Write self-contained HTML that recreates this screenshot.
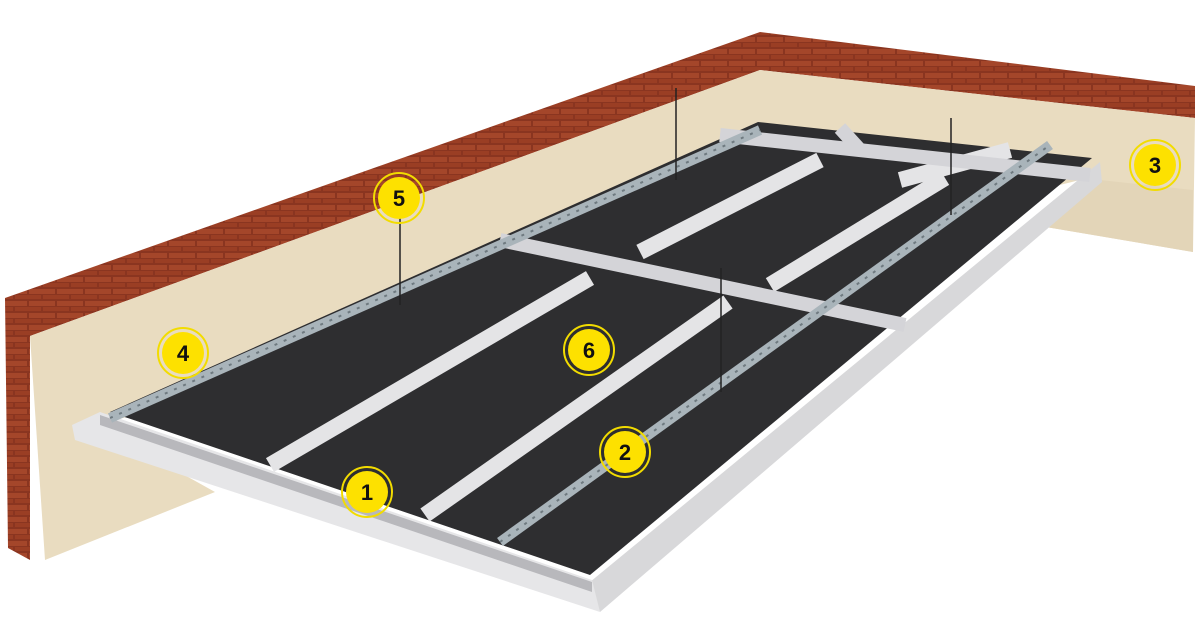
<!DOCTYPE html>
<html><head><style>html,body{margin:0;padding:0;background:#fff}svg{display:block}</style></head>
<body>
<svg width="1200" height="639" viewBox="0 0 1200 639" xmlns="http://www.w3.org/2000/svg">
<defs>
<pattern id="brick" width="28" height="12" patternUnits="userSpaceOnUse">
<rect width="28" height="12" fill="#8a3520"/>
<rect x="1" y="1" width="26" height="5" fill="#a4462a"/>
<rect x="-13" y="7" width="26" height="4" fill="#9a3e24"/>
<rect x="15" y="7" width="26" height="4" fill="#9a3e24"/>
</pattern>
</defs>
<!-- brick top and left side -->
<polygon points="5,298 760,32 1195,86 1195,118 760,70 30,336 30,560 8,548" fill="url(#brick)"/>
<!-- beige wall -->
<polygon points="30,336 760,70 1195,118 1193,252 1040,226 1100,175 95,425 215,492 45,560" fill="#e9dcc0"/>
<polygon points="1040,226 1100,180 1193,190 1193,252" fill="#e3d5b8"/>
<!-- board underside/right face -->
<polygon points="590,582 1100,162 1102,182 600,612" fill="#d8d8da"/>
<!-- front trim -->
<polygon points="72,425 100,412 592,580 600,612 75,440" fill="#e6e6e8"/>
<polygon points="100,415 592,582 592,592 100,425" fill="#b8b8bc"/>
<!-- dark board -->
<polygon points="110,412 758,122 1092,158 590,575" fill="#2e2e30"/>
<!-- furring channels (white) -->
<g stroke="#e4e4e6" stroke-width="16" stroke-linecap="butt">
<line x1="270" y1="465" x2="590" y2="278"/>
<line x1="425" y1="515" x2="728" y2="302"/>
<line x1="640" y1="252" x2="820" y2="160"/>
<line x1="770" y1="285" x2="945" y2="178"/>
<line x1="900" y1="180" x2="1010" y2="150"/>
</g>
<g stroke="#d4d4d8" stroke-width="14">
<line x1="500" y1="240" x2="905" y2="325"/>
<line x1="720" y1="135" x2="1090" y2="175"/>
<line x1="840" y1="128" x2="860" y2="150"/>
</g>
<!-- perforated galvanised strips -->
<g stroke="#a9b4ba" stroke-width="10">
<line x1="110" y1="418" x2="760" y2="130"/>
<line x1="500" y1="542" x2="1050" y2="145"/>
</g>
<g stroke="#6f7a80" stroke-width="2" stroke-dasharray="3,7">
<line x1="110" y1="418" x2="760" y2="130"/>
<line x1="500" y1="542" x2="1050" y2="145"/>
</g>
<!-- hanger wires -->
<g stroke="#222" stroke-width="1.5">
<line x1="400" y1="205" x2="400" y2="305"/>
<line x1="676" y1="88" x2="676" y2="180"/>
<line x1="721" y1="268" x2="721" y2="392"/>
<line x1="951" y1="118" x2="951" y2="215"/>
</g>
<!-- labels -->
<g font-family="Liberation Sans, sans-serif" font-weight="bold" font-size="22" text-anchor="middle" fill="#111">
<g><circle cx="367" cy="492" r="25" fill="none" stroke="#f2dc00" stroke-width="2"/><circle cx="367" cy="492" r="21" fill="#fde100"/><text x="367" y="500">1</text></g>
<g><circle cx="625" cy="452" r="25" fill="none" stroke="#f2dc00" stroke-width="2"/><circle cx="625" cy="452" r="21" fill="#fde100"/><text x="625" y="460">2</text></g>
<g><circle cx="1155" cy="165" r="25" fill="none" stroke="#f2dc00" stroke-width="2"/><circle cx="1155" cy="165" r="21" fill="#fde100"/><text x="1155" y="173">3</text></g>
<g><circle cx="183" cy="353" r="25" fill="none" stroke="#f2dc00" stroke-width="2"/><circle cx="183" cy="353" r="21" fill="#fde100"/><text x="183" y="361">4</text></g>
<g><circle cx="399" cy="198" r="25" fill="none" stroke="#f2dc00" stroke-width="2"/><circle cx="399" cy="198" r="21" fill="#fde100"/><text x="399" y="206">5</text></g>
<g><circle cx="589" cy="350" r="25" fill="none" stroke="#f2dc00" stroke-width="2"/><circle cx="589" cy="350" r="21" fill="#fde100"/><text x="589" y="358">6</text></g>
</g>
</svg>
</body></html>
